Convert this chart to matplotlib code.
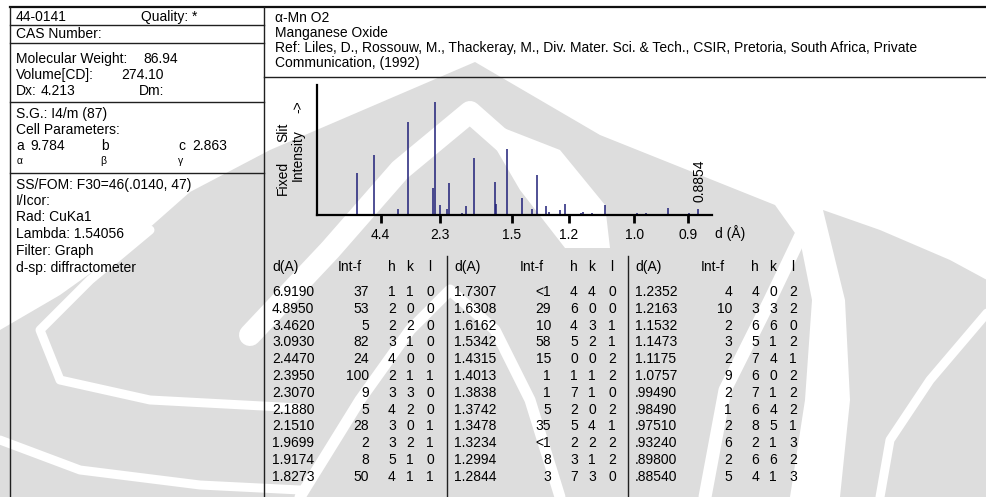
import numpy as np
import matplotlib
matplotlib.use("Agg")
import matplotlib.pyplot as plt
from matplotlib.patches import Polygon

# PDF card 44-0141, alpha-MnO2 (CuKa1)
d_spacing = ['6.9190', '4.8950', '3.4620', '3.0930', '2.4470', '2.3950',
             '2.3070', '2.1880', '2.1510', '1.9699', '1.9174', '1.8273',
             '1.7307', '1.6308', '1.6162', '1.5342', '1.4315', '1.4013',
             '1.3838', '1.3742', '1.3478', '1.3234', '1.2994', '1.2844',
             '1.2352', '1.2163', '1.1532', '1.1473', '1.1175', '1.0757',
             '.99490', '.98490', '.97510', '.93240', '.89800', '.88540']
int_f = ['37', '53', '5', '82', '24', '100', '9', '5', '28', '2', '8', '50',
         '<1', '29', '10', '58', '15', '1', '1', '5', '35', '<1', '8', '3',
         '4', '10', '2', '3', '2', '9', '2', '1', '2', '6', '2', '5']
h_idx = [1, 2, 2, 3, 4, 2, 3, 4, 3, 3, 5, 4,
         4, 6, 4, 5, 0, 1, 7, 2, 5, 2, 3, 7,
         4, 3, 6, 5, 7, 6, 7, 6, 8, 2, 6, 4]
k_idx = [1, 0, 2, 1, 0, 1, 3, 2, 0, 2, 1, 1,
         4, 0, 3, 2, 0, 1, 1, 0, 4, 2, 1, 3,
         0, 3, 6, 1, 4, 0, 1, 4, 5, 1, 6, 1]
l_idx = [0, 0, 0, 0, 0, 1, 0, 0, 1, 1, 0, 1,
         0, 0, 1, 1, 2, 2, 0, 2, 1, 2, 2, 0,
         2, 2, 0, 2, 1, 2, 2, 2, 1, 3, 2, 3]

wavelength = 1.54056
d_ticks = [4.4, 2.3, 1.5, 1.2, 1.0, 0.9]

left_info = [
    ('Molecular Weight:', 59), ('Volume[CD]:', 75), ('Dx:', 91),
    ('S.G.: I4/m (87)', 114), ('Cell Parameters:', 130),
    ('SS/FOM: F30=46(.0140, 47)', 185), ('I/Icor:', 201),
    ('Rad: CuKa1', 217), ('Lambda: 1.54056', 234),
    ('Filter: Graph', 251), ('d-sp: diffractometer', 268),
]
header_lines = [
    'α-Mn O2',
    'Manganese Oxide',
    'Ref: Liles, D., Rossouw, M., Thackeray, M., Div. Mater. Sci. & Tech., '
    'CSIR, Pretoria, South Africa, Private',
    'Communication, (1992)',
]

FONT = 'Liberation Sans'
FS = 10
W, H = 987, 497


def two_theta(d):
    return 2 * np.degrees(np.arcsin(wavelength / (2 * d)))


def intensity_value(s):
    return 0.5 if s.startswith('<') else float(s)


fig = plt.figure(figsize=(W / 100, H / 100), dpi=100)
fig.patch.set_facecolor('white')

# full-figure pixel layer for the card frame, text and background logo
bg = fig.add_axes([0, 0, 1, 1])
bg.set_xlim(0, W)
bg.set_ylim(H, 0)
bg.axis('off')

grey = '#dddddd'
flame = [(475, 62), (600, 135), (700, 175), (775, 205), (800, 240),
         (812, 300), (805, 400), (790, 497), (0, 497), (0, 330),
         (60, 295), (130, 245), (190, 192), (270, 150)]
bg.add_patch(Polygon(flame, closed=True, fc=grey, ec='none', zorder=0))
right_wing = [(823, 210), (880, 230), (950, 260), (987, 280), (987, 497),
              (840, 497), (850, 400), (845, 300)]
bg.add_patch(Polygon(right_wing, closed=True, fc=grey, ec='none', zorder=0))
hollow = [(478, 118), (560, 150), (605, 205), (610, 248), (565, 248),
          (520, 190)]
bg.add_patch(Polygon(hollow, closed=True, fc='white', ec='none', zorder=0.4))
# white bands through the logo
bands = [
    ([(250, 335), (330, 250), (400, 170), (470, 112), (530, 165),
      (575, 215)], 22),
    ([(300, 497), (360, 400), (410, 330), (450, 290), (495, 330),
      (530, 400), (560, 497)], 11),
    ([(812, 212), (770, 300), (725, 390), (705, 497)], 13),
    ([(150, 230), (90, 280), (40, 330), (60, 380), (150, 400),
      (300, 408)], 9),
    ([(0, 440), (80, 470), (200, 485), (300, 490)], 9),
    ([(987, 313), (930, 380), (890, 440), (880, 497)], 9),
]
for pts, lw in bands:
    xs, ys = zip(*pts)
    bg.plot(xs, ys, color='white', lw=lw * 0.72, solid_capstyle='round',
            solid_joinstyle='round', zorder=0.5)

# card frame
frame_kw = dict(color='#202020', lw=1.0, zorder=2)
bg.plot([10, W], [7, 7], color='#101010', lw=1.6, zorder=2)
bg.plot([10, 10], [7, H], **frame_kw)
bg.plot([264, 264], [7, H], **frame_kw)
for y in [25, 43, 102, 173]:
    bg.plot([10, 264], [y, y], **frame_kw)
bg.plot([264, W], [77, 77], **frame_kw)
for x in [447, 628]:
    bg.plot([x, x], [256, H], **frame_kw)

txt = dict(fontsize=FS, family=FONT, va='center', ha='left', zorder=3)
bg.text(16, 17, '44-0141', **txt)
bg.text(141, 17, 'Quality: *', **txt)
bg.text(16, 33.5, 'CAS Number:', **txt)
for label, y in left_info:
    bg.text(16, y, label, **txt)
bg.text(143, 59, '86.94', **txt)
bg.text(121, 75, '274.10', **txt)
bg.text(41, 91, '4.213', **txt)
bg.text(139, 91, 'Dm:', **txt)
bg.text(16, 146, 'a', **txt)
bg.text(30, 146, '9.784', **txt)
bg.text(101, 146, 'b', **txt)
bg.text(178, 146, 'c', **txt)
bg.text(192, 146, '2.863', **txt)
for x, sym in [(17, 'α'), (100, 'β'), (178, 'γ')]:
    bg.text(x, 161, sym, fontsize=7.5, family=FONT, va='center', zorder=3)

for i, line in enumerate(header_lines):
    bg.text(275, 18 + 15 * i, line, **txt)

# reflection table, three blocks of twelve rows
block_x = [272, 454, 635]
rows = 12
for b, x0 in enumerate(block_x):
    bg.text(x0, 267, 'd(A)', **txt)
    bg.text(x0 + 66, 267, 'Int-f', **txt)
    for dx, name in [(120, 'h'), (138, 'k'), (158, 'l')]:
        bg.text(x0 + dx, 267, name, fontsize=FS, family=FONT,
                va='center', ha='center', zorder=3)
    for r in range(rows):
        i = b * rows + r
        y = 292 + 16.8 * r
        bg.text(x0, y, d_spacing[i], **txt)
        bg.text(x0 + 97, y, int_f[i], fontsize=FS, family=FONT,
                va='center', ha='right', zorder=3)
        for dx, val in [(120, h_idx[i]), (138, k_idx[i]), (158, l_idx[i])]:
            bg.text(x0 + dx, y, str(val), fontsize=FS, family=FONT,
                    va='center', ha='center', zorder=3)

# stick pattern, plotted against 2-theta and labelled in d
x_left, x_right, y_base, y_top = 317, 711.5, 215, 85
ax = fig.add_axes([x_left / W, 1 - y_base / H,
                   (x_right - x_left) / W, (y_base - y_top) / H])
ax.set_facecolor('none')
px_per_deg = 3.151
px_per_int = 1.133
ax.set_xlim(0, (x_right - x_left) / px_per_deg)
ax.set_ylim(0, (y_base - y_top) / px_per_int)

d_vals = np.array([float(s) for s in d_spacing])
heights = np.array([intensity_value(s) for s in int_f])
ax.vlines(two_theta(d_vals), 0, heights, color='#1f1f78', lw=1.1)

for side in ['top', 'right']:
    ax.spines[side].set_visible(False)
for side in ['left', 'bottom']:
    ax.spines[side].set_linewidth(1.6)
    ax.spines[side].set_color('black')
ax.set_yticks([])
ax.set_xticks(two_theta(np.array(d_ticks)))
ax.set_xticklabels([f'{d:.1f}' for d in d_ticks], family=FONT, fontsize=FS)
ax.tick_params(axis='x', direction='out', length=6, width=2, pad=3)

bg.text(730, 233, 'd (Å)', **dict(txt, ha='center'))
rot = dict(fontsize=FS, family=FONT, rotation=90, ha='center', va='center',
           zorder=3)
bg.text(283, 178, 'Fixed', **rot)
bg.text(283, 132, 'Slit', **rot)
bg.text(298, 155, 'Intensity', **rot)
bg.text(298, 107, '->', **rot)
bg.text(700, 181, '0.8854', **rot)

fig.savefig('out.png', dpi=100)
